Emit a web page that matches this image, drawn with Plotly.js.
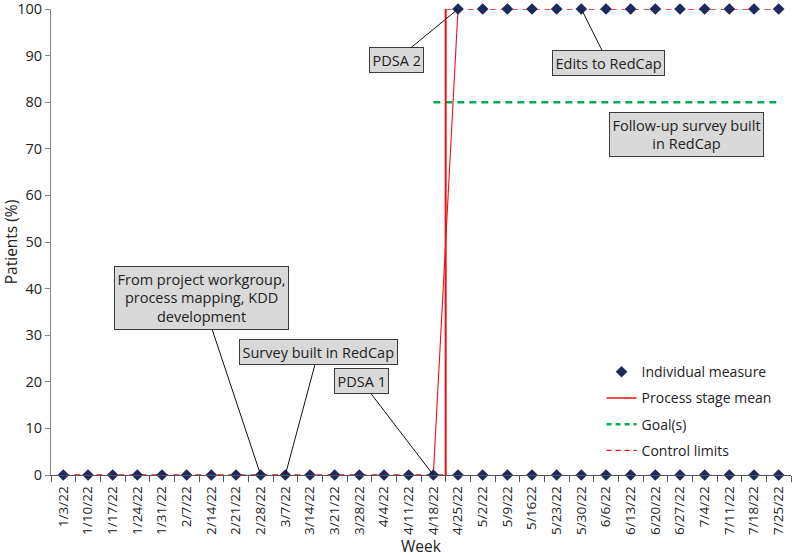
<!DOCTYPE html>
<html>
<head>
<meta charset="utf-8">
<script src="https://cdn.plot.ly/plotly-3.0.1.min.js"></script>
<style>html,body{margin:0;padding:0;background:#fff}#chart{width:794px;height:557px}</style>
</head>
<body>
<div id="chart"></div>
<script>
// ---- data ----
var weeks = ['1/3/22','1/10/22','1/17/22','1/24/22','1/31/22','2/7/22','2/14/22','2/21/22','2/28/22','3/7/22',
             '3/14/22','3/21/22','3/28/22','4/4/22','4/11/22','4/18/22','4/25/22','5/2/22','5/9/22','5/1622',
             '5/23/22','5/30/22','6/6/22','6/13/22','6/20/22','6/27/22','7/4/22','7/11/22','7/18/22','7/25/22'];
var individual = [0,0,0,0,0,0,0,0,0,0,0,0,0,0,0,0,100,100,100,100,100,100,100,100,100,100,100,100,100,100];
var individualLow = [null,null,null,null,null,null,null,null,null,null,null,null,null,null,null,null,0,0,0,0,0,0,0,0,0,0,0,0,0,0];
var meanStage1 = 0;
var meanStage2 = 100;
var stage1LastWeek = '4/18/22';
var stage2FirstWeek = '4/25/22';
var goalValue = 80;
var goalStartWeek = '4/18/22';
var lowerLimitStage1 = 0;
var upperLimitStage2 = 100;

var idx = weeks.map(function(_, i){ return i; });
var iS1 = weeks.indexOf(stage1LastWeek);
var iS2 = weeks.indexOf(stage2FirstWeek);
var breakX = (iS1 + iS2) / 2;
var lastI = weeks.length - 1;
var boundaries = [];
for (var b = 0; b <= weeks.length; b++) boundaries.push(b - 0.5);

var navy = '#1c2a5e';
var red = '#f01010';
var traces = [
  { x: [0, breakX], y: [lowerLimitStage1, lowerLimitStage1], mode: 'lines', showlegend: false,
    line: {color: red, width: 1.4, dash: '6px,5px'}, hoverinfo: 'skip' },
  { x: [breakX, lastI], y: [upperLimitStage2, upperLimitStage2], mode: 'lines', showlegend: false,
    line: {color: red, width: 1.4, dash: '6px,5px'}, hoverinfo: 'skip' },
  { x: [weeks.indexOf(goalStartWeek), lastI], y: [goalValue, goalValue], mode: 'lines', showlegend: false,
    line: {color: '#00b050', width: 2.5, dash: '7px,5px'} },
  { x: [breakX, breakX], y: [meanStage1, meanStage2], mode: 'lines', showlegend: false,
    line: {color: red, width: 2} },
  { x: [iS1, iS2], y: [meanStage1, meanStage2], mode: 'lines', showlegend: false,
    line: {color: red, width: 1.1} },
  { x: idx, y: individual, mode: 'markers', name: 'Individual measure', cliponaxis: false, legendgroup: 'a',
    marker: {symbol: 'diamond', color: navy, size: 9} },
  { x: idx, y: individualLow, mode: 'markers', showlegend: false, cliponaxis: false,
    marker: {symbol: 'diamond', color: navy, size: 9} },
  // legend-only entries
  { x: [null], y: [null], mode: 'lines', name: 'Process stage mean', legendgroup: 'b', line: {color: red, width: 1.5} },
  { x: [null], y: [null], mode: 'lines', name: 'Goal(s)', legendgroup: 'c', line: {color: '#00b050', width: 2.5, dash: '5px,4px'} },
  { x: [null], y: [null], mode: 'lines', name: 'Control limits', legendgroup: 'd', line: {color: red, width: 1.2, dash: '5px,4px'} }
];

function ann(text, week, yv, ax, ay, arrow) {
  return { text: text, x: weeks.indexOf(week), y: yv, xref: 'x', yref: 'y', ax: ax, ay: ay,
    showarrow: arrow, arrowhead: 0, arrowwidth: 1, arrowcolor: '#111', standoff: 0,
    bgcolor: '#d9d9d9', bordercolor: '#3a3a3a', borderwidth: 1, borderpad: 2.5,
    font: {family: 'Open Sans', size: 14.5, color: '#222'}, align: 'center' };
}

var annotations = [
  ann('PDSA 2', '4/25/22', 100, -62, 51, true),
  ann('Edits to RedCap', '5/30/22', 100, 27, 54, true),
  ann('From project workgroup,<br>process mapping, KDD<br>development', '2/28/22', 0, -59, -177, true),
  ann('Survey built in RedCap', '3/7/22', 0, 33, -123, true),
  ann('PDSA 1', '4/18/22', 0, -72, -94, true)
];
var fu = ann('Follow-up survey built<br>in RedCap', '6/27/22', 73, 0, 0, false);
fu.x = 25.25;
annotations.push(fu);

var layout = {
  width: 794, height: 557,
  margin: {l: 51, r: 3, t: 9, b: 82},
  paper_bgcolor: '#fff', plot_bgcolor: '#fff',
  font: {family: 'Open Sans', size: 14, color: '#222'},
  showlegend: true,
  legend: {x: 0.744, y: 0.255, xanchor: 'left', yanchor: 'top', bgcolor: 'rgba(0,0,0,0)',
    font: {size: 14, color: '#222'}, traceorder: 'grouped', tracegroupgap: 5, itemwidth: 30},
  xaxis: {
    range: [-0.5, lastI + 0.5], tickmode: 'array', tickvals: idx, ticktext: weeks,
    tickangle: -90, ticks: '', showgrid: false, zeroline: false,
    showline: true, linecolor: '#555', linewidth: 1,
    tickfont: {size: 13.5, color: '#222'}, ticklabelstandoff: 5,
    minor: {tickmode: 'array', tickvals: boundaries, ticks: 'outside', ticklen: 6, tickcolor: '#555', showgrid: false},
    title: {text: 'Week', font: {size: 15.5, color: '#222'}, standoff: 8}
  },
  yaxis: {
    range: [0, 100], dtick: 10, ticks: 'outside', ticklen: 5, tickcolor: '#888',
    showgrid: false, zeroline: false, showline: true, linecolor: '#888', linewidth: 1,
    tickfont: {size: 14.5, color: '#222'}, ticklabeloverflow: 'allow',
    title: {text: 'Patients (%)', font: {size: 15.5, color: '#222'}, standoff: 6}
  },
  annotations: annotations
};

Plotly.newPlot('chart', traces, layout, {displayModeBar: false, staticPlot: true});
</script>
</body>
</html>
